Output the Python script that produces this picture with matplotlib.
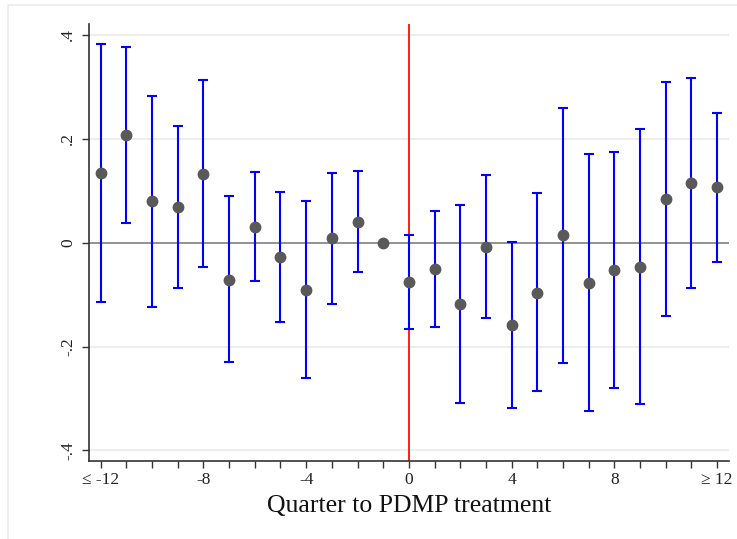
import numpy as np
import matplotlib.pyplot as plt
from matplotlib.patches import Rectangle

# event-study estimates
quarters = [-12, -11, -10, -9, -8, -7, -6, -5, -4, -3, -2, -1,
            0, 1, 2, 3, 4, 5, 6, 7, 8, 9, 10, 11, 12]
coef = [0.134, 0.207, 0.080, 0.068, 0.133, -0.071, 0.031, -0.028, -0.091, 0.008, 0.040, 0.0,
        -0.075, -0.051, -0.118, -0.008, -0.159, -0.096, 0.014, -0.078, -0.053, -0.046, 0.084, 0.115, 0.107]
ci_hi = [0.382, 0.377, 0.283, 0.224, 0.313, 0.089, 0.136, 0.098, 0.080, 0.134, 0.138, np.nan,
         0.015, 0.061, 0.073, 0.130, 0.001, 0.096, 0.259, 0.170, 0.175, 0.219, 0.309, 0.317, 0.250]
ci_lo = [-0.114, 0.037, -0.124, -0.088, -0.047, -0.230, -0.074, -0.153, -0.261, -0.119, -0.056, np.nan,
         -0.166, -0.163, -0.309, -0.146, -0.319, -0.286, -0.232, -0.325, -0.279, -0.311, -0.141, -0.087, -0.037]

xticks = [-12, -8, -4, 0, 4, 8, 12]
xticklabels = ["\u2264 -12", "-8", "-4", "0", "4", "8", "\u2265 12"]
yticks = [-0.4, -0.2, 0, 0.2, 0.4]
yticklabels = ["-.4", "-.2", "0", ".2", ".4"]

plt.rcParams['font.family'] = ['Liberation Serif', 'DejaVu Serif']

fig = plt.figure(figsize=(7.37, 5.39), dpi=100)
# faint outer frame like the Stata graph region
fig.patches.append(Rectangle((8 / 737, -0.1), 1.2, (539 - 5) / 539 + 0.1,
                             transform=fig.transFigure, fill=False,
                             edgecolor='#ececec', linewidth=1.2))
ax = fig.add_axes([88.7 / 737, 1 - 461.3 / 539, (729 - 88.7) / 737, (461.3 - 24) / 539])

q = np.array(quarters)
c = np.array(coef)
hi = np.array(ci_hi)
lo = np.array(ci_lo)
ok = ~np.isnan(hi)

for yv in yticks:
    if yv != 0:
        ax.axhline(yv, color='#ebebeb', lw=1.2, zorder=0)
ax.axhline(0, color='#7f7f7f', lw=1.2, zorder=1)
ax.axvline(0, color='#ff1a1a', lw=1.4, zorder=2)

ax.errorbar(q[ok], c[ok], yerr=[c[ok] - lo[ok], hi[ok] - c[ok]], fmt='none',
            ecolor='#0000ff', elinewidth=1.5, capsize=3.3, capthick=1.5, zorder=3)
ax.plot(q, c, 'o', color='#595959', markersize=7.5, zorder=4)

ax.set_xlim(-12.47, 12.47)
ax.set_ylim(-0.421, 0.421)
ax.set_xticks(xticks)
ax.set_xticklabels(xticklabels)
ax.set_xticks(quarters, minor=True)
ax.set_yticks(yticks)
ax.set_yticklabels(yticklabels, rotation=90, va='center')
ax.tick_params(axis='both', which='major', length=5, width=1, color='#333333',
               labelsize=12.5, labelcolor='#222222')
ax.tick_params(axis='x', which='minor', length=5, width=1, color='#333333')
ax.tick_params(axis='x', pad=3)
ax.tick_params(axis='y', pad=4)

for side in ['top', 'right']:
    ax.spines[side].set_visible(False)
for side in ['left', 'bottom']:
    ax.spines[side].set_color('#333333')
    ax.spines[side].set_linewidth(1.2)

ax.set_xlabel("Quarter to PDMP treatment", fontsize=18.5, color='#111111', labelpad=5)

fig.savefig("out.png", dpi=100)
